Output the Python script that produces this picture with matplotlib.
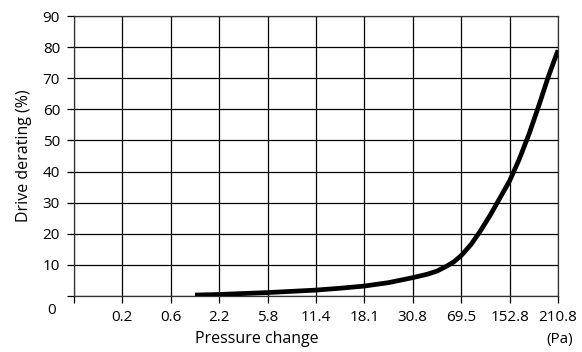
import matplotlib.pyplot as plt
import matplotlib.transforms as mtransforms

plt.rcParams['font.family'] = ['Open Sans', 'DejaVu Sans']

# tick labels along the pressure axis (evenly spaced, position 0 has no label)
pressure_labels = ['0.2', '0.6', '2.2', '5.8', '11.4', '18.1', '30.8', '69.5', '152.8', '210.8']
derating_ticks = [0, 10, 20, 30, 40, 50, 60, 70, 80, 90]

# curve, x given in tick-position units
curve_pos = [2.5, 3.0, 3.5, 4.0, 4.5, 5.0, 5.5, 6.0, 6.5, 7.0, 7.3, 7.5, 7.7, 7.85,
             8.0, 8.2, 8.4, 8.6, 8.8, 9.0, 9.2, 9.4, 9.6, 9.8, 10.0]
curve_derating = [0.3, 0.5, 0.8, 1.1, 1.5, 1.9, 2.5, 3.2, 4.3, 5.9, 7.0, 8.0, 9.6, 11.0,
                  13.0, 16.5, 21.0, 26.0, 31.5, 37.0, 44.0, 52.0, 61.0, 70.5, 79.0]

fig = plt.figure(figsize=(5.82, 3.52), dpi=100)
ax = fig.add_axes([74 / 582, 1 - 296 / 352, 484 / 582, 280 / 352])

ax.plot(curve_pos, curve_derating, color='black', linewidth=3.4,
        solid_capstyle='butt', zorder=3)

ax.set_xlim(0, 10)
ax.set_ylim(0, 90)
ax.set_xticks(range(0, 11))
ax.set_xticklabels([''] + pressure_labels)
ax.set_yticks(derating_ticks)
ax.set_yticklabels([str(v) for v in derating_ticks])

ax.grid(True, color='black', linewidth=0.9)
ax.set_axisbelow(True)
for side in ['top', 'right', 'left', 'bottom']:
    ax.spines[side].set_linewidth(0.9)
    ax.spines[side].set_color('#333333')

ax.tick_params(axis='both', direction='out', length=5, width=0.9,
               labelsize=11, colors='black', pad=5)
ax.tick_params(axis='x', pad=5)

# the "0" label sits below the axis corner
zero_lab = ax.get_yticklabels()[0]
zero_lab.set_transform(zero_lab.get_transform() +
                       mtransforms.ScaledTranslation(-4 / 100, -12 / 100, fig.dpi_scale_trans))

ax.set_ylabel('Drive derating (%)', fontsize=11.5, labelpad=8)
fig.text(257 / 582, 1 - 339 / 352, 'Pressure change', ha='center', va='center', fontsize=11.5)
fig.text(560 / 582, 1 - 340 / 352, '(Pa)', ha='center', va='center', fontsize=11)

fig.savefig('out.png', dpi=100)
